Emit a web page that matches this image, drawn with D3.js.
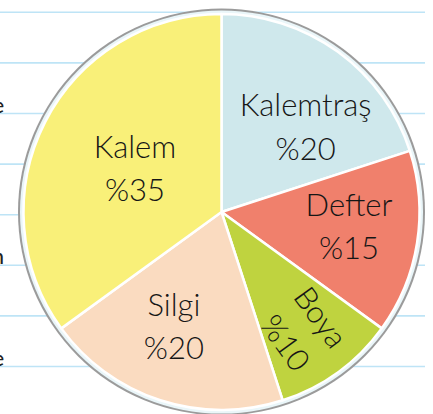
<!DOCTYPE html>
<html>
<head>
<meta charset="utf-8">
<script src="https://cdn.jsdelivr.net/npm/d3@7"></script>
<style>
  html, body { margin: 0; padding: 0; background: #fff; }
  svg { display: block; }
</style>
</head>
<body>
<svg id="chart" width="433" height="414"></svg>
<script>
// Slice data (clockwise from 12 o'clock)
const categories = ["Kalemtraş", "Defter", "Boya", "Silgi", "Kalem"];
const percents = [20, 15, 10, 20, 35];
const colors = ["#CFE8EC", "#F0806C", "#BFD33F", "#FADBC0", "#F9F079"];

// Cropped words at the left margin of the ruled page
const marginLetters = ["e", "n", "e"];
const marginRows = [2, 5, 7];

// Label placement: angle in degrees (clockwise from top), distance from centre, text rotation
const labelLayout = {
  "Kalemtraş": { angle: 45, r: 119, rotate: 0 },
  "Defter":    { angle: 96.9, r: 128.4, rotate: 0 },
  "Boya":      { angle: 145.7, r: 143.5, rotate: 54 },
  "Silgi":     { angle: 202.4, r: 124.9, rotate: 0 },
  "Kalem":     { angle: 296.4, r: 96.6, rotate: 0 }
};

const W = 433, H = 414;
const cx = 221.5, cy = 212;
const R = 198;

const svg = d3.select("#chart");

// Ruled notebook lines
const lineTop = 12.3, lineGap = 50.6;
const rows = d3.range(8);
svg.append("g")
  .selectAll("line")
  .data(rows)
  .join("line")
  .attr("x1", 0)
  .attr("x2", 425)
  .attr("y1", i => lineTop + i * lineGap)
  .attr("y2", i => lineTop + i * lineGap)
  .attr("stroke", "#BEE4F6")
  .attr("stroke-width", 1.6);

// Text fragments running off the left edge
svg.append("g")
  .selectAll("text")
  .data(marginLetters)
  .join("text")
  .attr("x", 4)
  .attr("y", (d, i) => lineTop + marginRows[i] * lineGap - 1)
  .attr("text-anchor", "end")
  .attr("font-family", "Lato, 'DejaVu Sans', sans-serif")
  .attr("font-size", 21)
  .attr("font-weight", 500)
  .attr("fill", "#222")
  .text(d => d);

const g = svg.append("g").attr("transform", `translate(${cx},${cy})`);

// Rim: grey outer rule and pale inner band
g.append("circle")
  .attr("r", R + 5.5)
  .attr("fill", "#9B9B9B");
g.append("circle")
  .attr("r", R + 3.5)
  .attr("fill", "#EAF6F9");

const pie = d3.pie().sort(null).startAngle(0).endAngle(2 * Math.PI);
const arcs = pie(percents);
const arc = d3.arc().innerRadius(0).outerRadius(R);
const color = d3.scaleOrdinal().domain(categories).range(colors);

g.append("g")
  .selectAll("path")
  .data(arcs)
  .join("path")
  .attr("d", arc)
  .attr("fill", (d, i) => color(categories[i]))
  .attr("stroke", "#fff")
  .attr("stroke-width", 2.5)
  .attr("stroke-linejoin", "round");

// Labels: name on the first line, percentage on the second
const labels = g.append("g")
  .selectAll("g")
  .data(arcs)
  .join("g")
  .attr("transform", (d, i) => {
    const L = labelLayout[categories[i]];
    const a = L.angle * Math.PI / 180;
    const x = L.r * Math.sin(a);
    const y = -L.r * Math.cos(a);
    return `translate(${x},${y}) rotate(${L.rotate})`;
  })
  .attr("font-family", "Lato, 'Open Sans', sans-serif")
  .attr("font-size", 31)
  .attr("font-weight", 300)
  .attr("fill", "#161616")
  .attr("text-anchor", "middle");

labels.append("text")
  .attr("y", -11.5)
  .text((d, i) => categories[i]);

labels.append("text")
  .attr("y", 32)
  .text(d => "%" + d.data);
</script>
</body>
</html>
